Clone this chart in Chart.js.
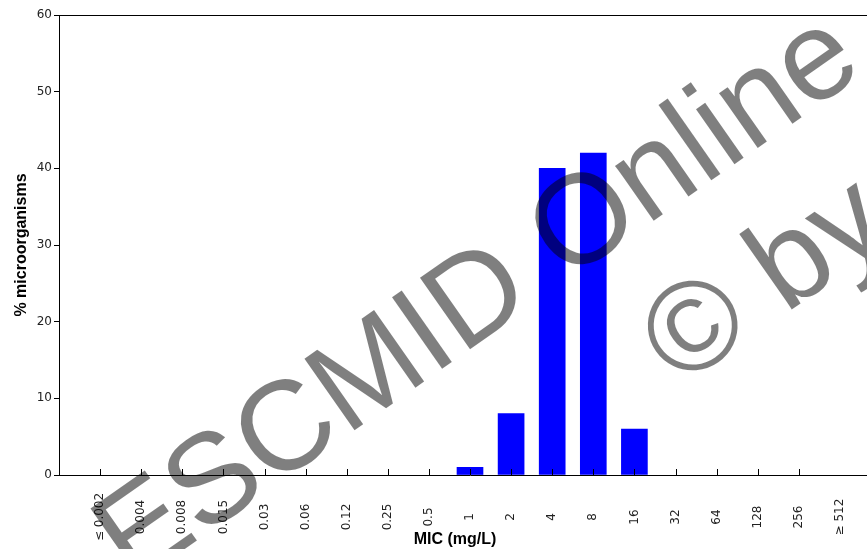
<!DOCTYPE html>
<html><head><meta charset="utf-8">
<script src="https://cdn.jsdelivr.net/npm/chart.js@4"></script>
<style>html,body{margin:0;padding:0;overflow:hidden;background:#fff}</style>
</head><body>
<canvas id="c" width="900" height="549"></canvas>
<script>
const categories = ['≤ 0.002','0.004','0.008','0.015','0.03','0.06','0.12','0.25','0.5','1','2','4','8','16','32','64','128','256','≥ 512'];
const percentValues = [0,0,0,0,0,0,0,0,0,1,8,40,42,6,0,0,0,0,0];
const yMin = 0, yMax = 60, yStep = 10;
const xTitle = 'MIC (mg/L)';
const yTitle = '% microorganisms';
const watermarkLines = ['ESCMID Online', '© by author'];

const labels = [''].concat(categories, ['']);
// zero-height bars are left undrawn, as in the reference
const values = [null].concat(percentValues.map(v => (v === 0 ? null : v)), [null]);

const extras = {
  id: 'extras',
  afterDatasetsDraw(chart) {
    const ctx = chart.ctx, a = chart.chartArea, xs = chart.scales.x;
    ctx.save();
    ctx.strokeStyle = '#000'; ctx.lineWidth = 1;
    ctx.beginPath();
    ctx.moveTo(a.left, Math.round(a.top) + 0.5);
    ctx.lineTo(a.right, Math.round(a.top) + 0.5);
    ctx.stroke();
    // inner tick marks (none at last category)
    ctx.beginPath();
    for (let i = 1; i < categories.length; i++) {
      const x = Math.round(xs.getPixelForTick(i)) + 0.5;
      ctx.moveTo(x, a.bottom - 6);
      ctx.lineTo(x, a.bottom);
    }
    ctx.stroke();
    // rotated category labels, centred
    ctx.fillStyle = '#222';
    ctx.font = '12px "DejaVu Sans"';
    ctx.textAlign = 'center'; ctx.textBaseline = 'middle';
    for (let i = 0; i < categories.length; i++) {
      const x = xs.getPixelForTick(i + 1);
      ctx.save();
      ctx.translate(x, a.bottom + 42);
      ctx.rotate(-Math.PI / 2);
      ctx.fillText(categories[i], 0, 0);
      ctx.restore();
    }
    // x title
    ctx.fillStyle = '#000';
    ctx.font = 'bold 16px "Liberation Sans"';
    ctx.fillText(xTitle, 455, a.bottom + 65);
    ctx.restore();
  },
  afterDraw(chart) {
    const ctx = chart.ctx;
    ctx.save();
    ctx.fillStyle = 'rgba(0,0,0,0.5)';
    ctx.font = '127px "Liberation Sans"';
    ctx.textBaseline = 'alphabetic'; ctx.textAlign = 'left';
    ctx.translate(132, 586);
    ctx.rotate(-35 * Math.PI / 180);
    ctx.fillText(watermarkLines[0], 0, 0);
    ctx.fillText(watermarkLines[1], 562, 152);
    ctx.restore();
  }
};

new Chart(document.getElementById('c'), {
  type: 'bar',
  data: { labels: labels, datasets: [{ data: values, backgroundColor: '#0000ff', borderWidth: 0, barThickness: 26 }] },
  options: {
    responsive: false, animation: false, devicePixelRatio: 1,
    layout: { padding: { top: 15, right: 19, bottom: 0, left: 0 } },
    plugins: { legend: { display: false }, tooltip: { enabled: false } },
    scales: {
      x: {
        type: 'category', offset: false,
        grid: { display: true, drawOnChartArea: false, drawTicks: false },
        border: { display: true, color: '#000', width: 1 },
        ticks: { display: false },
        afterFit: s => { s.height = 74; }
      },
      y: {
        min: yMin, max: yMax,
        ticks: { stepSize: yStep, color: '#222', font: { family: 'DejaVu Sans', size: 12 }, padding: 2 },
        grid: { display: true, drawOnChartArea: false, drawTicks: true, tickLength: 5, color: '#000' },
        border: { display: true, color: '#000', width: 1 },
        title: { display: true, text: yTitle, color: '#000', font: { family: 'Liberation Sans', size: 16, weight: 'bold' }, padding: { top: 12, bottom: 0 } },
        afterFit: s => { s.width = 59; }
      }
    }
  },
  plugins: [extras]
});
</script>
</body></html>
